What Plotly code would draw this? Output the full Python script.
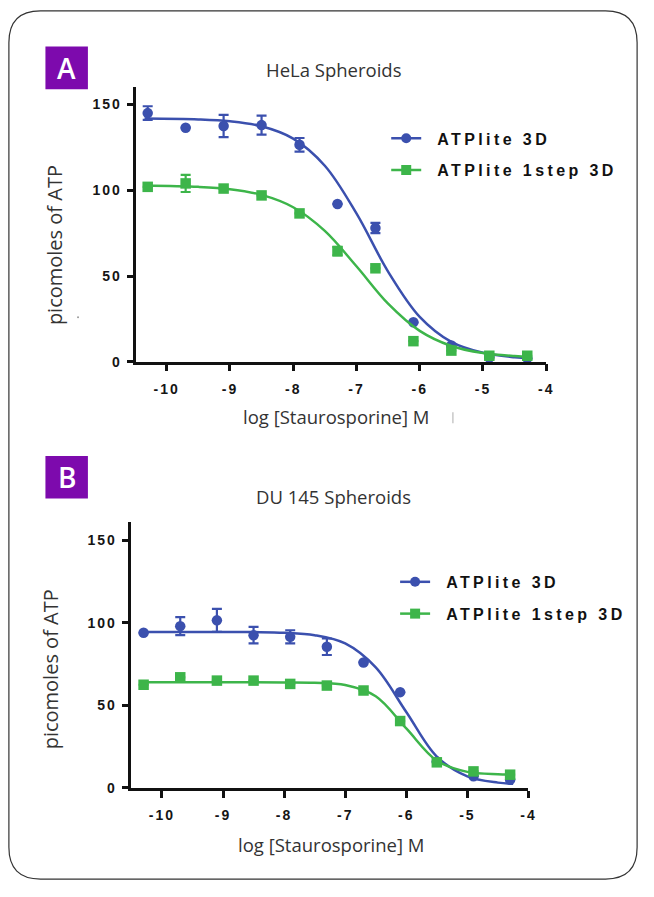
import plotly.graph_objects as go

# ---------------- data ----------------
log_conc = [-10.3, -9.7, -9.1, -8.5, -7.9, -7.3, -6.7, -6.1, -5.5, -4.9, -4.3]

hela_3d = [145, 136.5, 137.5, 138, 126.5, 92, 78, 23, 9.5, 2.5, 2]
hela_3d_err = [4, None, 6.5, 5.5, 4, None, 3, None, None, None, None]
hela_1step = [102, 104, 101, 97, 86.5, 64.5, 54.5, 12, 6.5, 3.5, 3.5]
hela_1step_err = [None, 5, None, None, None, 2.5, None, None, None, None, None]

du_3d = [94, 98, 101.5, 92.5, 91.5, 85.5, 76, 58, 16, 7, 5]
du_3d_err = [None, 5.5, 7, 5, 4, 5, None, None, None, None, None]
du_1step = [62.5, 67, 65, 65, 63, 62, 59, 40.5, 15.5, 10, 8]
du_1step_err = [None] * 11

# fitted curves
curve_x = [-10.35, -9.5, -9.0, -8.5, -8.0, -7.5, -7.0, -6.5, -6.0, -5.5, -5.0, -4.5, -4.25]
hela_fit_3d = [141.8, 141.3, 140.2, 137.3, 130.1, 114.3, 86.5, 52.6, 26.2, 11.6, 5.2, 2.6, 2.0]
hela_fit_1step = [102.8, 102.0, 100.6, 97.3, 90.1, 76.3, 55.7, 33.9, 18.0, 9.2, 5.1, 3.3, 2.8]
du_fit_3d = [94.5, 94.5, 94.5, 94.4, 94.0, 92.5, 87.5, 73.0, 46.0, 19.0, 7.0, 3.2, 2.5]
du_fit_1step = [64.0, 64.0, 64.0, 64.0, 63.9, 63.7, 62.3, 55.5, 36.0, 16.5, 9.7, 8.3, 8.2]

series_names = ["ATPlite 3D", "ATPlite 1step 3D"]
x_ticks = [-10, -9, -8, -7, -6, -5, -4]
x_tick_labels = ["-10", "-9", "-8", "-7", "-6", "-5", "-4"]
y_ticks = [0, 50, 100, 150]
y_tick_labels = ["0", "50", "100", "150"]

# ---------------- styling ----------------
W, H = 654, 897
BLUE = "#3b50ae"
GREEN = "#3db54a"
PURPLE = "#7d0aad"


def fx(px):
    return px / W


def fy(py):
    return 1 - py / H


def spaced(s, sp):
    return '<span style="letter-spacing:%spx">%s</span>' % (sp, s)


def legend_label(s):
    return '<span style="letter-spacing:6.6px">\u00a0</span>' + spaced(s, 3.4)


fig = go.Figure()

panels = [
    dict(xa="x", ya="y", leg="legend", d3=hela_3d, e3=hela_3d_err, d1=hela_1step, e1=hela_1step_err,
         f3=hela_fit_3d, f1=hela_fit_1step),
    dict(xa="x2", ya="y2", leg="legend2", d3=du_3d, e3=du_3d_err, d1=du_1step, e1=du_1step_err,
         f3=du_fit_3d, f1=du_fit_1step),
]

for i, p in enumerate(panels):
    for vals, errs, fit, color, sym, name in [
        (p["d3"], p["e3"], p["f3"], BLUE, "circle", series_names[0]),
        (p["d1"], p["e1"], p["f1"], GREEN, "square", series_names[1]),
    ]:
        fig.add_trace(go.Scatter(
            x=curve_x, y=fit, mode="lines", xaxis=p["xa"], yaxis=p["ya"],
            line=dict(color=color, width=2.5, shape="spline", smoothing=1.0),
            showlegend=False, hoverinfo="skip"))
        fig.add_trace(go.Scatter(
            x=log_conc, y=vals, mode="markers", xaxis=p["xa"], yaxis=p["ya"],
            marker=dict(color=color, size=10.5, symbol=sym, line=dict(width=0)),
            error_y=dict(type="data", array=errs, visible=True, color=color, thickness=2.2, width=5),
            cliponaxis=False, showlegend=False, name=name))
        # legend entry
        fig.add_trace(go.Scatter(
            x=[None], y=[None], mode="lines+markers", xaxis=p["xa"], yaxis=p["ya"],
            line=dict(color=color, width=2.5),
            marker=dict(color=color, size=10, symbol=sym),
            name=legend_label(name), legend=p["leg"], legendgroup=p["leg"] + name, showlegend=True))

axis_common = dict(showline=True, linecolor="#111", linewidth=2.5, ticks="outside", ticklen=7,
                   tickwidth=2.5, tickcolor="#111", showgrid=False, zeroline=False,
                   tickfont=dict(family="Liberation Sans", size=14, weight="bold", color="#151515"))

legend_font = dict(family="Liberation Sans", size=16, weight="bold", color="#111")

fig.update_layout(
    width=W, height=H, margin=dict(l=0, r=0, t=0, b=0, pad=0),
    paper_bgcolor="white", plot_bgcolor="rgba(0,0,0,0)",
    xaxis=dict(domain=[fx(138), fx(553)], range=[-10.48, -4], anchor="y",
               tickvals=x_ticks, ticktext=[spaced(t, 2) for t in x_tick_labels],
               ticklabelstandoff=6, **axis_common),
    yaxis=dict(domain=[fy(365), fy(88)], range=[0, 160.1], anchor="x",
               tickvals=y_ticks, ticktext=[spaced(t, 2) for t in y_tick_labels],
               ticklabelstandoff=2, **axis_common),
    xaxis2=dict(domain=[fx(133), fx(535)], range=[-10.5, -4], anchor="y2",
                tickvals=x_ticks, ticktext=[spaced(t, 2) for t in x_tick_labels],
                ticklabelstandoff=6, **axis_common),
    yaxis2=dict(domain=[fy(795), fy(527)], range=[0, 160.9], anchor="x2",
                tickvals=y_ticks, ticktext=[spaced(t, 2) for t in y_tick_labels],
                ticklabelstandoff=2, **axis_common),
    legend=dict(x=fx(391), y=fy(122.5), xanchor="left", yanchor="top", bgcolor="rgba(0,0,0,0)",
                font=legend_font, traceorder="grouped", tracegroupgap=8),
    legend2=dict(x=fx(400), y=fy(570), xanchor="left", yanchor="top", bgcolor="rgba(0,0,0,0)",
                 font=legend_font, traceorder="grouped", tracegroupgap=8),
)

# ---------------- decorations ----------------
shapes = []
# rounded outer border
L, R, T, B, r = 9, 645, 11, 887, 32
path = (f"M {fx(L + r)},{fy(T)} L {fx(R - r)},{fy(T)} Q {fx(R)},{fy(T)} {fx(R)},{fy(T + r)} "
        f"L {fx(R)},{fy(B - r)} Q {fx(R)},{fy(B)} {fx(R - r)},{fy(B)} "
        f"L {fx(L + r)},{fy(B)} Q {fx(L)},{fy(B)} {fx(L)},{fy(B - r)} "
        f"L {fx(L)},{fy(T + r)} Q {fx(L)},{fy(T)} {fx(L + r)},{fy(T)} Z")
shapes.append(dict(type="path", xref="paper", yref="paper", path=path,
                   line=dict(color="#333", width=1.2), fillcolor="rgba(0,0,0,0)", layer="below"))
# panel letter boxes
for (x0, y0, x1, y1) in [(46, 47, 89, 90), (46, 460, 89, 503)]:
    shapes.append(dict(type="rect", xref="paper", yref="paper", x0=fx(x0), x1=fx(x1), y0=fy(y1), y1=fy(y0),
                       fillcolor=PURPLE, line=dict(width=0), layer="below"))
# faint scan marks present in the source image
shapes.append(dict(type="line", xref="paper", yref="paper", x0=fx(458.5), x1=fx(458.5), y0=fy(427), y1=fy(416),
                   line=dict(color="#c8c8c8", width=1.5)))
shapes.append(dict(type="circle", xref="paper", yref="paper", x0=fx(78), x1=fx(80), y0=fy(321), y1=fy(319),
                   fillcolor="#9a9a9a", line=dict(width=0)))
fig.update_layout(shapes=shapes)

ann = []
for letter, cy in [("A", 68.5), ("B", 481.5)]:
    ann.append(dict(text=letter, x=fx(67.5), y=fy(cy), xref="paper", yref="paper", showarrow=False,
                    xanchor="center", yanchor="middle",
                    font=dict(family="Open Sans", size=28, weight=600, color="white")))
title_font = dict(family="Open Sans", size=18.5, color="#333")
ytitle_font = dict(family="Open Sans", size=20, color="#333")
ann.append(dict(text="HeLa Spheroids", x=fx(338), y=fy(70), xref="paper", yref="paper", showarrow=False,
                xanchor="center", yanchor="middle", font=title_font))
ann.append(dict(text="DU 145 Spheroids", x=fx(338), y=fy(501), xref="paper", yref="paper", showarrow=False,
                xanchor="center", yanchor="middle", font=title_font))
ann.append(dict(text="log [Staurosporine] M", x=fx(340), y=fy(420), xref="paper", yref="paper",
                showarrow=False, xanchor="center", yanchor="middle", font=title_font))
ann.append(dict(text="log [Staurosporine] M", x=fx(335), y=fy(852), xref="paper", yref="paper",
                showarrow=False, xanchor="center", yanchor="middle", font=title_font))
ann.append(dict(text="picomoles of ATP", x=fx(55), y=fy(247), xref="paper", yref="paper", showarrow=False,
                xanchor="center", yanchor="middle", textangle=-90, font=ytitle_font))
ann.append(dict(text="picomoles of ATP", x=fx(52), y=fy(675), xref="paper", yref="paper", showarrow=False,
                xanchor="center", yanchor="middle", textangle=-90, font=ytitle_font))
fig.update_layout(annotations=ann)

fig.write_html("out.html")
